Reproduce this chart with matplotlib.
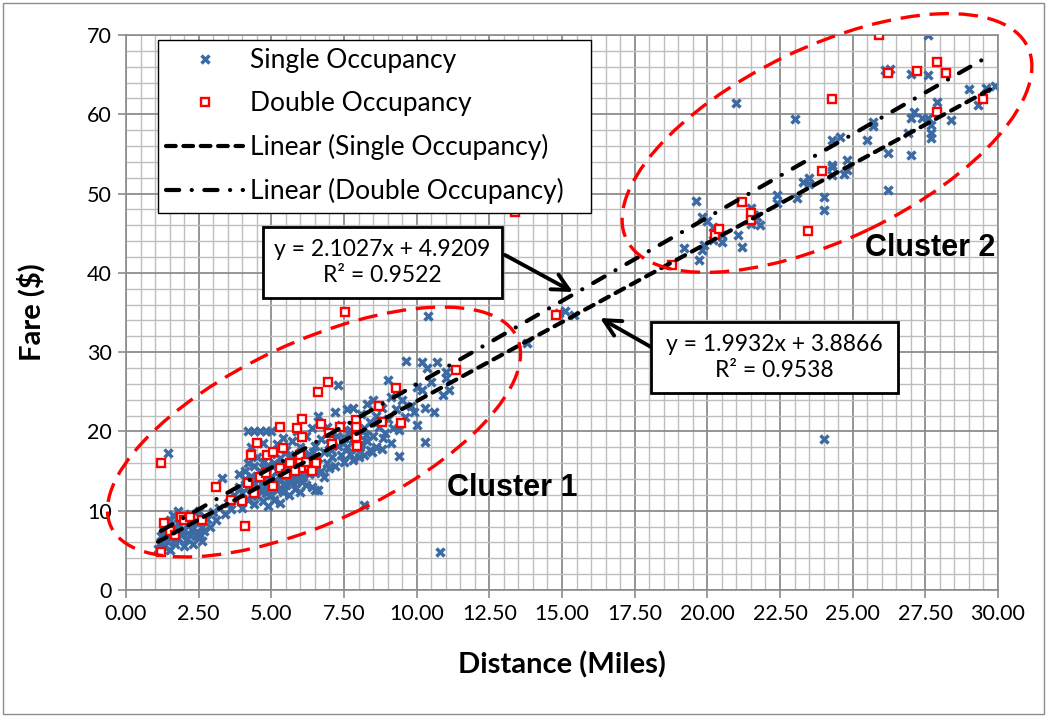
import numpy as np
import matplotlib.pyplot as plt
from matplotlib.lines import Line2D
from matplotlib.patches import Ellipse, Rectangle

# single occupancy trips: distance (miles), fare ($)
single_x = [
    1.1, 1.2, 1.2, 1.3, 1.3, 1.4, 1.4, 1.5, 1.5, 1.5, 1.6, 1.6, 1.7, 1.7, 1.8, 1.8, 1.8, 1.9, 1.9, 2.0,
    2.0, 2.1, 2.1, 2.2, 2.2, 2.3, 2.3, 2.4, 2.4, 2.5, 2.6, 2.6, 2.7, 2.8, 2.5, 1.45,
    1.35, 1.65, 1.95, 2.25, 2.55,
    2.9, 3.0, 3.1, 3.2, 3.3, 3.4, 3.5, 3.6, 3.7, 3.8, 3.9, 4.0, 4.0, 4.1, 4.1, 4.2, 3.9,
    4.2, 4.2, 4.2, 4.3, 4.3, 4.3, 4.4, 4.4, 4.4, 4.4, 4.5, 4.5, 4.5, 4.6, 4.6, 4.6, 4.7, 4.7,
    4.7, 4.7, 4.8, 4.8, 4.8, 4.9, 4.9, 4.9, 5.0, 5.0, 5.0, 5.0, 5.1, 5.1, 5.1, 5.2, 5.2, 5.2,
    5.3, 5.3, 5.3, 5.4, 5.4, 5.4, 5.5, 5.5, 5.5, 5.6, 5.6, 5.6, 5.7, 5.7, 5.7, 5.8, 5.8, 5.8,
    5.9, 5.9, 5.9, 6.0, 6.0, 6.0, 6.1, 6.1, 6.2, 6.2, 6.2, 6.3, 6.3, 6.4, 6.4, 6.4, 6.5, 6.5,
    6.5, 6.6, 6.6, 6.7, 6.7, 6.8, 6.8, 6.9, 6.9, 7.0, 7.0, 6.6,
    4.55, 4.65, 4.75, 4.85, 4.95, 5.05, 5.15, 5.25, 5.35, 5.45, 5.55, 5.65, 5.75, 5.85, 5.95,
    6.05, 6.15, 6.25, 6.35, 6.45,
    7.1, 7.1, 7.2, 7.2, 7.3, 7.3, 7.4, 7.4, 7.5, 7.5, 7.6, 7.6, 7.7, 7.7, 7.8, 7.8, 7.8, 7.9,
    7.9, 8.0, 8.0, 8.1, 8.1, 8.2, 8.2, 8.2, 8.3, 8.3, 8.4, 8.4, 8.5, 8.5, 8.6, 8.6, 8.7, 8.8,
    8.8, 8.9, 9.0, 9.0, 9.1, 9.1, 9.2, 9.3, 9.4, 9.4, 9.5, 9.6,
    7.05, 7.25, 7.45, 7.65, 7.85, 8.05, 8.25, 8.45, 8.65, 8.85,
    9.65, 9.8, 9.9, 10.0, 10.0, 10.2, 10.2, 10.3, 10.3, 10.35, 10.4, 10.5, 10.7, 10.8, 10.9,
    11.0, 11.0, 11.1, 10.6,
    13.8, 14.9, 15.4, 15.1,
    19.2, 19.6, 19.7, 19.8, 19.8, 19.9, 20.0, 20.2, 20.2, 20.5, 20.5, 21.0, 21.05, 21.2, 21.5,
    21.6, 21.5, 21.8, 21.7, 22.4, 22.4, 23.0, 23.1, 23.3, 23.5, 23.5, 24.0, 24.0, 24.0, 24.3,
    24.3, 24.3, 24.55, 24.3, 24.7, 24.8, 24.8, 25.5, 25.7, 25.7, 26.1, 26.3, 26.2, 26.2, 26.9,
    27.0, 27.0, 27.0, 27.1, 27.4, 27.6, 27.6, 27.6, 27.7, 27.7, 27.7, 27.9, 28.4, 29.0, 29.3,
    29.6, 29.9,
]
single_y = [
    5.2, 6.0, 6.8, 5.5, 7.4, 6.2, 8.0, 5.0, 6.8, 8.8, 7.2, 9.5, 5.8, 7.8, 6.5, 8.4, 10.0, 7.0, 9.0, 5.6,
    7.6, 6.4, 8.2, 7.0, 9.6, 5.8, 7.8, 6.8, 8.6, 7.2, 6.2, 8.0, 7.4, 9.0, 10.0, 17.3,
    7.0, 6.2, 7.4, 8.6, 6.8,
    8.0, 9.8, 8.8, 10.4, 14.1, 9.6, 11.0, 10.2, 12.0, 11.4, 13.0, 10.4, 12.2, 14.0, 15.0, 11.4, 14.6,
    13.0, 16.0, 20.0, 12.0, 14.4, 18.0, 10.8, 13.4, 15.6, 20.0, 11.8, 14.0, 16.8, 12.6, 15.0, 20.0, 11.2, 13.6,
    16.2, 18.6, 12.2, 14.6, 20.0, 10.6, 13.2, 15.8, 12.0, 14.2, 17.2, 20.0, 11.4, 13.6, 16.0, 12.6, 15.0, 18.4,
    11.0, 13.8, 16.6, 12.4, 14.6, 19.2, 13.2, 15.6, 17.6, 12.0, 14.2, 16.8, 13.6, 15.2, 18.8, 12.8, 14.8, 17.0,
    13.8, 16.0, 20.0, 12.4, 15.0, 18.0, 14.2, 16.4, 13.2, 15.6, 19.4, 14.6, 17.2, 13.0, 15.8, 20.4, 12.6, 14.8,
    18.2, 16.6, 22.0, 15.0, 19.0, 14.2, 17.4, 16.0, 20.6, 15.4, 18.4, 12.6,
    13.0, 14.2, 15.4, 12.8, 14.0, 15.6, 12.8, 14.4, 15.8, 13.4, 14.8, 15.8, 14.0, 16.0, 14.6,
    13.6, 15.2, 16.8, 15.4, 17.4,
    16.8, 19.8, 15.6, 22.4, 18.2, 25.9, 17.0, 20.8, 16.2, 19.2, 18.0, 22.8, 17.2, 20.2, 16.4, 19.0, 23.0, 17.8,
    21.0, 16.8, 19.6, 18.4, 22.2, 10.7, 17.0, 20.4, 18.8, 23.4, 17.6, 21.2, 19.4, 24.0, 18.0, 22.0, 20.6, 17.8,
    23.0, 19.8, 21.6, 26.5, 18.6, 24.4, 20.4, 22.8, 16.9, 20.2, 24.0, 21.8,
    17.6, 19.4, 18.6, 19.8, 20.6, 18.0, 19.6, 17.4, 21.2, 19.2,
    28.9, 23.2, 22.5, 25.6, 20.8, 28.8, 25.2, 23.0, 18.7, 28.0, 34.6, 26.2, 28.8, 4.8, 24.6,
    27.5, 26.8, 25.2, 22.4,
    31.1, 34.9, 34.7, 35.2,
    43.1, 49.1, 41.6, 42.9, 47.0, 43.5, 46.5, 44.2, 45.8, 44.8, 43.9, 61.4, 44.8, 43.3, 48.2,
    47.3, 46.2, 46.0, 47.0, 49.8, 48.8, 59.4, 49.4, 51.4, 51.2, 52.0, 49.6, 47.9, 19.0, 53.4,
    52.3, 56.7, 57.1, 53.6, 52.5, 54.2, 53.0, 56.7, 59.0, 58.5, 65.6, 65.7, 55.1, 50.4, 57.6,
    65.1, 59.5, 54.9, 60.3, 59.5, 59.5, 64.9, 70.0, 58.6, 57.6, 57.0, 61.5, 59.3, 63.2, 61.2,
    63.3, 63.6,
]

# double occupancy trips
double_x = [
    1.2, 1.2, 1.3, 1.5, 1.7, 1.9, 2.0, 2.2, 2.6, 3.1, 3.6, 4.0, 4.1, 4.2, 4.3, 4.4, 4.5, 4.6,
    4.8, 4.85, 5.05, 5.05, 5.3, 5.3, 5.4, 5.65, 5.9, 6.0, 6.0, 6.05, 6.05, 6.1, 6.3, 6.55,
    6.6, 6.7, 6.95, 7.0, 7.1, 7.35, 7.55, 7.9, 7.9, 7.9, 7.95, 8.7, 8.8, 9.3, 9.45, 11.35,
    5.8, 6.2, 6.4, 5.5,
    13.4, 14.8, 18.8, 20.25, 20.4, 21.2, 21.5, 21.5, 23.45, 23.95, 24.3, 25.9, 26.2, 27.2,
    27.9, 28.2, 27.9, 29.5,
]
double_y = [
    16.0, 4.8, 8.5, 7.5, 7.0, 9.2, 8.8, 9.2, 8.8, 13.0, 11.3, 11.2, 8.1, 13.5, 17.0, 12.2, 18.5, 14.3,
    14.8, 17.0, 17.4, 13.1, 15.4, 20.6, 17.9, 16.0, 20.4, 16.4, 17.0, 21.6, 19.3, 15.4, 15.6, 16.0,
    25.0, 21.0, 26.2, 19.8, 18.4, 20.6, 35.1, 21.4, 20.6, 19.3, 18.2, 23.2, 21.2, 25.5, 21.1, 27.7,
    15.0, 16.2, 15.0, 14.6,
    47.7, 34.7, 41.0, 44.8, 45.5, 48.9, 47.6, 46.7, 45.3, 52.8, 61.9, 70.0, 65.2, 65.4,
    66.6, 65.2, 60.3, 61.9,
]

# fitted trendlines (slope, intercept, R^2)
single_fit = (1.9932, 3.8866, 0.9538)
double_fit = (2.1027, 4.9209, 0.9522)

x_ticks = np.arange(0, 30.01, 2.5)
y_ticks = np.arange(0, 71, 10)

W, H = 1047, 717
BLUE = '#3C6AA3'
RED = '#FF0000'

plt.rcParams['font.family'] = ['Lato', 'DejaVu Sans']
plt.rcParams['lines.scale_dashes'] = False


def fx(px):
    return px / W


def fy(py):
    return 1 - py / H


def eq_text(fit):
    return "y = %.4fx + %.4f\nR\u00b2 = %.4f" % fit


def trend(ax, xs, fit, dashes):
    x0, x1 = min(xs), max(xs)
    t = np.array([x0, x1])
    ax.plot(t, fit[0] * t + fit[1], color='black', lw=3.0,
            dashes=dashes, dash_capstyle='round', zorder=4)


fig = plt.figure(figsize=(W / 100, H / 100), dpi=100)
ax = fig.add_axes([fx(126), fy(590), fx(998) - fx(126), fy(35) - fy(590)])

ax.plot(single_x, single_y, ls='none', marker='x', ms=6, mew=2.5, color=BLUE, zorder=2)
ax.plot(double_x, double_y, ls='none', marker='s', ms=6.0, mew=1.7, mec=RED, mfc='white', zorder=3)

trend(ax, single_x, single_fit, (7, 5.5))
trend(ax, double_x, double_fit, (9.5, 9, 0.1, 9))

ax.set_xlim(0, 30)
ax.set_ylim(0, 70)
ax.set_xticks(x_ticks)
ax.set_xticklabels(["%.2f" % v for v in x_ticks])
ax.set_yticks(y_ticks)
ax.set_xticks(np.arange(0, 30.01, 0.5), minor=True)
ax.set_yticks(np.arange(0, 70.1, 2), minor=True)
ax.grid(which='minor', color='#BEBEBE', lw=1.0, zorder=0)
ax.grid(which='major', color='#8C8C8C', lw=1.3, zorder=0)
ax.set_axisbelow(True)
ax.tick_params(which='major', direction='out', length=6, width=1.2, color='#8C8C8C',
               labelsize=15.5, pad=4)
ax.tick_params(which='minor', length=0)
for s in ax.spines.values():
    s.set_color('#8C8C8C')
    s.set_linewidth(1.2)

ax.set_xlabel("Distance (Miles)", fontsize=21, fontweight='bold', labelpad=20)
ax.set_ylabel("Fare ($)", fontsize=21, fontweight='bold', labelpad=30)

handles = [
    Line2D([], [], ls='none', marker='x', ms=6, mew=2.5, color=BLUE),
    Line2D([], [], ls='none', marker='s', ms=6.0, mew=1.7, mec=RED, mfc='white'),
    Line2D([], [], color='black', lw=3.0, dashes=(7, 5.5), dash_capstyle='round'),
    Line2D([], [], color='black', lw=3.0, dashes=(9.5, 9, 0.1, 9), dash_capstyle='round'),
]
labels = ["Single Occupancy", "Double Occupancy",
          "Linear (Single Occupancy)", "Linear (Double Occupancy)"]
leg = ax.legend(handles, labels, loc='upper left',
                bbox_to_anchor=(fx(158), fy(210), fx(591) - fx(158), fy(40) - fy(210)),
                bbox_transform=fig.transFigure, mode='expand', borderaxespad=0, fontsize=19,
                fancybox=False, framealpha=1, edgecolor='black', handlelength=2.9,
                handletextpad=0.25, labelspacing=0.68, borderpad=0.32)
leg.get_frame().set_linewidth(1.0)
leg.set_zorder(6)

# equation boxes with arrows to the trendlines
for (x0, y0, x1, y1), fit in [((263, 227, 502, 298), double_fit),
                              ((651, 322, 898, 393), single_fit)]:
    fig.add_artist(Rectangle((fx(x0), fy(y1)), fx(x1) - fx(x0), fy(y0) - fy(y1),
                             transform=fig.transFigure, facecolor='white',
                             edgecolor='black', lw=2.0, zorder=7))
    fig.text(fx((x0 + x1) / 2), fy((y0 + y1) / 2), eq_text(fit), ha='center', va='center',
             fontsize=16.5, linespacing=1.25, zorder=8)

for (sx, sy), (ex, ey) in [((505, 255), (573, 292)), ((651, 347), (600, 318))]:
    ax.annotate('', xy=(fx(ex), fy(ey)), xycoords='figure fraction',
                xytext=(fx(sx), fy(sy)), textcoords='figure fraction',
                arrowprops=dict(arrowstyle='->', lw=2.8, color='black',
                                shrinkA=0, shrinkB=0, mutation_scale=30),
                zorder=8)

# dashed ellipses around the two clusters (pixel geometry)
for cx, cy, w, h, ang in [(314, 432, 448, 180, 25), (827, 143, 445, 192, 25.6)]:
    fig.add_artist(Ellipse((cx / 100, (H - cy) / 100), w / 100, h / 100, angle=ang,
                           transform=fig.dpi_scale_trans, fill=False, edgecolor=RED,
                           lw=2.4, linestyle=(0, (14, 7)), zorder=7))

fig.text(fx(512), fy(488), "Cluster 1", family='Liberation Sans', fontweight='bold',
         fontsize=22, ha='center', va='center')
fig.text(fx(930), fy(248), "Cluster 2", family='Liberation Sans', fontweight='bold',
         fontsize=22, ha='center', va='center')

fig.add_artist(Rectangle((fx(3), fy(714)), fx(1044) - fx(3), fy(3) - fy(714),
                         transform=fig.transFigure, fill=False, edgecolor='#8C8C8C', lw=1.0))

fig.savefig("out.png", dpi=100)
